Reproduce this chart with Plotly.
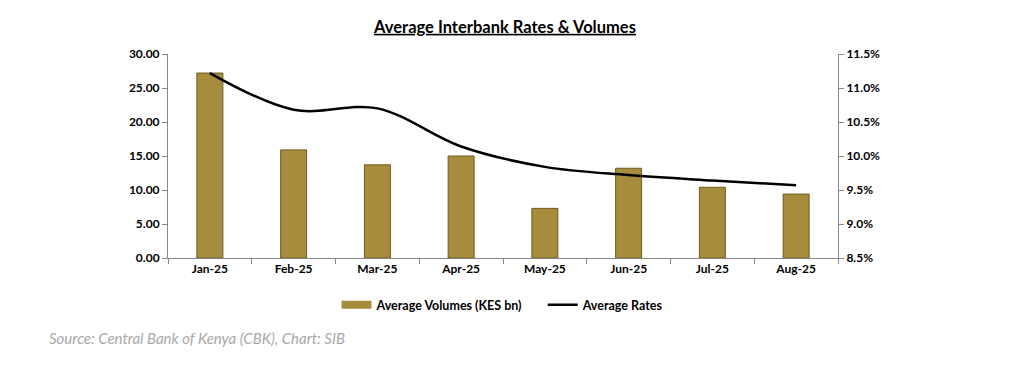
import plotly.graph_objects as go

months = ["Jan-25", "Feb-25", "Mar-25", "Apr-25", "May-25", "Jun-25", "Jul-25", "Aug-25"]
volumes = [27.2, 15.9, 13.7, 15.0, 7.3, 13.2, 10.4, 9.4]
rates = [11.22, 10.68, 10.70, 10.14, 9.84, 9.72, 9.64, 9.57]

FONT = "Lato"
GOLD = "#A68C3C"

fig = go.Figure()
fig.add_trace(go.Bar(
    x=months, y=volumes, name="Average Volumes (KES bn)",
    marker=dict(color=GOLD, line=dict(color="#6E5A20", width=1)),
    width=0.31, showlegend=False,
))
# legend-only entry to show a wide rectangle swatch like the original
fig.add_trace(go.Scatter(
    x=[None], y=[None], name="Average Volumes (KES bn)&nbsp;&nbsp;&nbsp;&nbsp;&nbsp;",
    mode="lines", line=dict(color=GOLD, width=8), hoverinfo="skip",
))
fig.add_trace(go.Scatter(
    x=months, y=rates, name="Average Rates", yaxis="y2",
    mode="lines", line=dict(color="black", width=2.5, shape="spline", smoothing=1.0),
))

fig.update_layout(
    width=1024, height=369,
    margin=dict(l=168, r=186, t=54, b=111),
    paper_bgcolor="white", plot_bgcolor="white",
    font=dict(family=FONT, size=12, color="black"),
    title=dict(text="<b><u>Average Interbank Rates & Volumes</u></b>",
               x=505 / 1024, xref="container", xanchor="center",
               y=1 - 27 / 369, yref="container", yanchor="middle",
               font=dict(family=FONT, size=16.5, color="black")),
    showlegend=True,
    legend=dict(orientation="h", x=0.5, xanchor="center", xref="paper",
                y=1 - 305 / 369, yref="container", yanchor="middle",
                font=dict(family=FONT, size=12.5, color="black", weight="bold"),
                itemwidth=30),
    xaxis=dict(type="category", showline=True, linecolor="#888888", linewidth=1,
               ticks="outside", tickson="boundaries", ticklen=5, tickcolor="#888888",
               tickfont=dict(family=FONT, size=12, weight="bold"),
               showgrid=False),
    yaxis=dict(range=[0, 30], dtick=5, tickformat=".2f", showline=True,
               linecolor="#888888", linewidth=1, ticks="outside", ticklen=5,
               tickcolor="#888888", showgrid=False, zeroline=False,
               tickfont=dict(family=FONT, size=12, weight="bold")),
    yaxis2=dict(range=[8.5, 11.5], dtick=0.5, tickformat=".1f", ticksuffix="%",
                overlaying="y", side="right", showline=True, linecolor="#888888",
                linewidth=1, ticks="outside", ticklen=5, tickcolor="#888888",
                showgrid=False, zeroline=False,
                tickfont=dict(family=FONT, size=12, weight="bold")),
    bargap=0.69,
)

fig.add_annotation(
    text="<i>Source: Central Bank of Kenya (CBK), Chart: SIB</i>",
    xref="paper", yref="paper", x=(47 - 168) / 670, y=(258 - 338) / 204,
    xanchor="left", yanchor="middle", showarrow=False,
    font=dict(family=FONT, size=15, color="#A8A8A8"),
)

fig.write_html("out.html", config={"displayModeBar": False},
               post_script="document.body.style.margin='0';")
